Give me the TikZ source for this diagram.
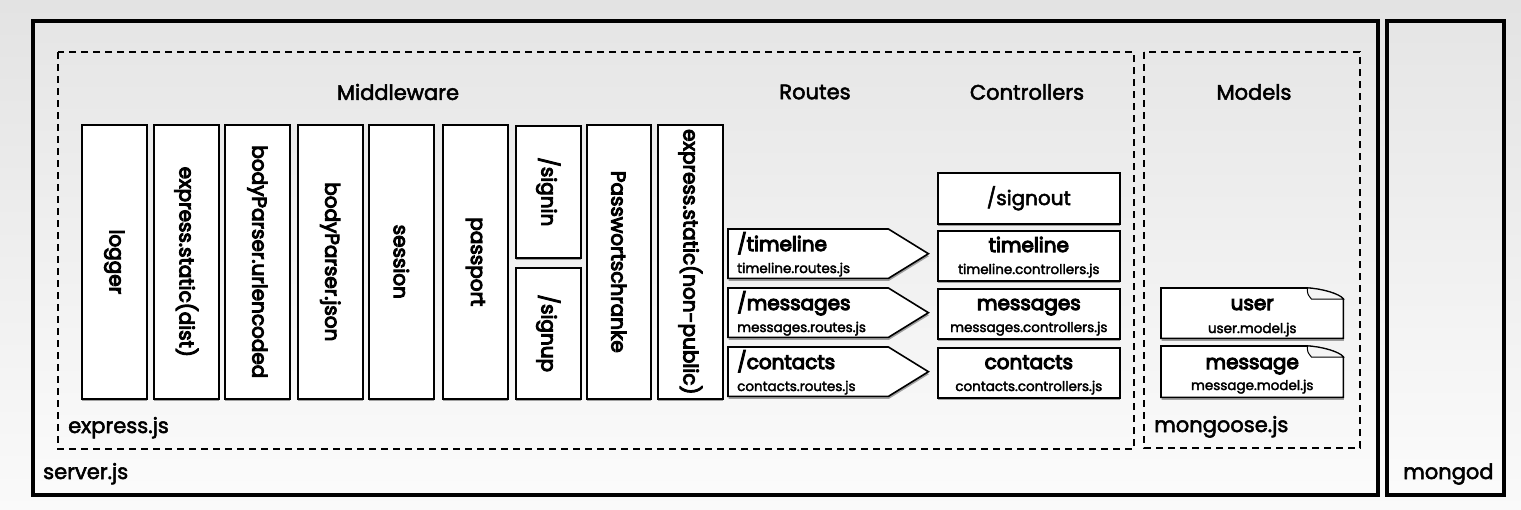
\documentclass[tikz,border=0pt]{standalone}
\usepackage{fontspec}
\setmainfont{Poppins}[FakeBold=2.5]
\newfontfamily\medfont{Poppins}[FakeBold=5]
\usepackage{graphicx}
\usetikzlibrary{shadows,calc}
\newcommand{\hdf}{\fontsize{21}{25}\selectfont}
\newcommand{\vtf}{\medfont\fontsize{20}{24}\selectfont}
\newcommand{\bigf}{\medfont\fontsize{20}{24}\selectfont}
\newcommand{\smf}{\fontsize{13.5}{16}\selectfont}
\begin{document}
\begin{tikzpicture}[x=1pt,y=-1pt,
  shad/.style={drop shadow={shadow xshift=0.5pt, shadow yshift=-2.5pt, opacity=0.35, fill=black}},
  mwbox/.style={draw=black, line width=1.6pt, fill=white, inner sep=0pt, shad, anchor=north west},
  holder/.style={inner sep=0pt, anchor=north west},
  outline/.style={draw=black, line width=1.6pt, fill=white, shad},
  frame/.style={draw=black, line width=3.2pt},
  dashbox/.style={draw=black, line width=1.4pt, dash pattern=on 7pt off 5pt},
  hdr/.style={font=\hdf, inner sep=0pt},
  lbl/.style={font=\hdf, inner sep=0pt, anchor=base west},
  big/.style={font=\bigf, inner sep=0pt},
  small/.style={font=\smf, inner sep=0pt}]
\useasboundingbox (0,0) rectangle (1521,509);
\shade[top color=gray!22, bottom color=gray!4] (0,0) rectangle (1521,509);
% outer frames
\shade[top color=gray!20, bottom color=gray!3] (33,21) rectangle (1378,495);
\draw[frame] (33,21) rectangle (1378,495);
\shade[top color=gray!20, bottom color=gray!3] (1387,21) rectangle (1504,495);
\draw[frame] (1387,21) rectangle (1504,495);
\draw[dashbox] (58,52) rectangle (1134,449);
\draw[dashbox] (1144,52) rectangle (1360,448);
% headers
\node[hdr] (hmw) at (398,92) {Middleware};
\node[hdr] (hrt) at (815,92) {Routes};
\node[hdr] (hct) at (1027,92) {Controllers};
\node[hdr] (hmd) at (1254,92) {Models};
% labels
\node[lbl] (lexp) at (68,433) {express.js};
\node[lbl] (lmgs) at (1154,432) {mongoose.js};
\node[lbl] (lsrv) at (43,479) {server.js};
\node[lbl] (lmgd) at (1403,479) {mongod};
% middleware
\node[mwbox, minimum width=65, minimum height=274] (logger) at (81,124) {\rotatebox{-90}{\vtf logger}};
\node[mwbox, minimum width=65, minimum height=274] (estatic) at (153,124) {\rotatebox{-90}{\vtf express.static(dist)}};
\node[mwbox, minimum width=65, minimum height=274] (bpurl) at (224,124) {\rotatebox{-90}{\vtf bodyParser.urlencoded}};
\node[mwbox, minimum width=65, minimum height=274] (bpjson) at (297,124) {\rotatebox{-90}{\vtf bodyParser.json}};
\node[mwbox, minimum width=65, minimum height=274] (session) at (368,124) {\rotatebox{-90}{\vtf session}};
\node[mwbox, minimum width=65, minimum height=274] (passport) at (442,124) {\rotatebox{-90}{\vtf passport}};
\node[mwbox, minimum width=65, minimum height=132] (signin) at (515,125) {\rotatebox{-90}{\vtf /signin}};
\node[mwbox, minimum width=65, minimum height=131] (signup) at (515,267) {\rotatebox{-90}{\vtf /signup}};
\node[mwbox, minimum width=64, minimum height=274] (pws) at (586,124) {\rotatebox{-90}{\vtf Passwortschranke}};
\node[mwbox, minimum width=65, minimum height=274] (esnp) at (657,124) {\rotatebox{-90}{\vtf express.static(non-public)}};
% routes
\foreach \n/\t/\a/\b in {rt1/229/{/timeline}/{timeline.routes.js}, rt2/288/{/messages}/{messages.routes.js}, rt3/347/{/contacts}/{contacts.routes.js}}{
  \node[holder, minimum width=160, minimum height=49] (\n) at (728,\t) {};
  \path[outline] (\n.north west) -- (\n.north east) -- ($(\n.east)+(40,0)$) -- (\n.south east) -- (\n.south west) -- cycle;
  \node[big, anchor=base west] (\n a) at ($(\n.north west)+(9,22)$) {\a};
  \node[small, anchor=base west] (\n b) at ($(\n.north west)+(9,44)$) {\b};
}
% controllers
\node[mwbox, minimum width=182, minimum height=51] (csignout) at (937,172) {\fontsize{20}{24}\selectfont /signout};
\foreach \n/\t/\a/\b in {ct1/230/timeline/{timeline.controllers.js}, ct2/288/messages/{messages.controllers.js}, ct3/347/contacts/{contacts.controllers.js}}{
  \node[mwbox, minimum width=182, minimum height=50] (\n) at (937,\t) {};
  \node[big, anchor=base] (\n a) at ($(\n.north)+(0,22)$) {\a};
  \node[small, anchor=base] (\n b) at ($(\n.north)+(0,44)$) {\b};
}
% models
\foreach \n/\t/\h/\a/\b/\ya/\yb in {muser/288/50/user/{user.model.js}/22/45, mmsg/346/51/message/{message.model.js}/23/44}{
  \node[holder, minimum width=182, minimum height=\h] (\n) at (1161,\t) {};
  \path[outline] (\n.north west) -- ($(\n.north east)+(-36,0)$) .. controls ($(\n.north east)+(-20,1)$) and ($(\n.north east)+(-4,6)$) .. ($(\n.north east)+(0,11)$) -- (\n.south east) -- (\n.south west) -- cycle;
  \draw[line width=1pt, fill=gray!8] ($(\n.north east)+(-36,0)$) .. controls ($(\n.north east)+(-36,6)$) .. ($(\n.north east)+(-32,11)$) -- ($(\n.north east)+(0,11)$) .. controls ($(\n.north east)+(-4,6)$) and ($(\n.north east)+(-20,1)$) .. cycle;
  \node[big, anchor=base] (\n a) at ($(\n.north)+(0,\ya)$) {\a};
  \node[small, anchor=base] (\n b) at ($(\n.north)+(0,\yb)$) {\b};
}
\end{tikzpicture}
\end{document}
